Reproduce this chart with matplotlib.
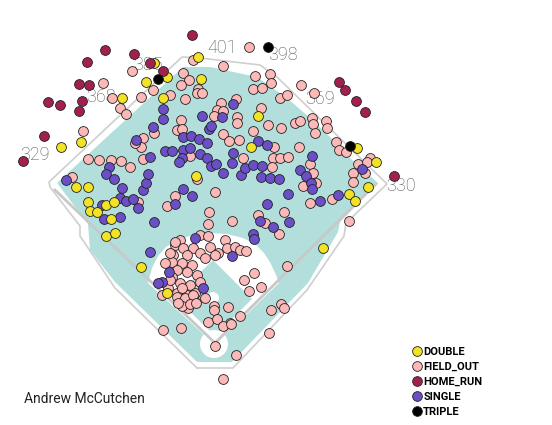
import matplotlib
matplotlib.use("Agg")
import matplotlib.pyplot as plt
from matplotlib.patches import Polygon, Circle
from matplotlib.lines import Line2D

# --- batted ball coordinates (chart pixel space, y grows downward) ---
double_x = [198, 154, 167, 146, 163, 122, 201, 258, 81, 61, 251, 196, 76, 88, 88,
            90, 97, 106, 114, 111, 106, 115, 141, 167, 323, 357, 376, 368, 349, 355]
double_y = [57, 63, 77, 82, 98, 98, 79, 116, 142, 147, 147, 176, 187, 187, 202,
            211, 212, 205, 202, 219, 236, 233, 267, 293, 248, 148, 162, 187, 194, 201]

out_x = [249, 223, 193, 132, 103, 112, 120, 126, 83, 141, 153, 170, 185, 183, 189, 181, 198, 197, 202,
         255, 270, 271, 253, 262, 301, 314, 280, 287,
         221, 236, 217, 223, 214, 237, 237, 261, 268, 281, 295, 300, 312, 313, 326, 327, 315, 253, 223,
         229, 239, 299, 336, 339, 346, 274, 243, 273, 280, 288, 272, 310, 313, 316, 358, 370, 367, 365,
         353, 353, 332, 310, 303,
         181, 177, 182, 154, 143, 141, 135, 130, 121, 111, 99, 88, 143, 72, 190, 197, 215, 175, 167, 138,
         209, 208, 232, 258, 265, 284, 279, 349,
         287, 254, 244, 249, 261, 271, 281, 284, 269, 240, 230, 228, 214, 214, 208, 217, 223, 231, 215,
         236, 223, 163, 181,
         200, 180, 175, 183, 193, 210, 218, 225, 227, 235, 240, 246, 200, 205, 215, 173, 187, 172, 182,
         192, 177, 187, 197, 172, 168, 180, 190, 200, 177, 187, 195, 183, 195, 188, 205, 165, 170, 182,
         177, 185, 193, 182, 190, 196, 178, 170, 175, 162, 208]
out_y = [47, 66, 60, 71, 83, 98, 108, 114, 131, 97, 90, 95, 99, 73, 80, 85, 89, 93, 93,
         76, 74, 83, 89, 88, 85, 93, 98, 95,
         103, 99, 110, 111, 116, 117, 123, 108, 125, 128, 123, 121, 118, 124, 121, 128, 133, 131, 134,
         141, 140, 147, 142, 150, 152, 147, 158, 158, 158, 157, 167, 164, 173, 183, 164, 158, 162, 173,
         173, 182, 199, 203, 186,
         120, 130, 129, 133, 138, 147, 143, 167, 161, 160, 160, 159, 159, 177, 156, 179, 192, 196, 206, 202,
         212, 224, 221, 215, 223, 212, 234, 221,
         266, 273, 280, 291, 287, 310, 304, 308, 333, 316, 323, 307, 306, 310, 322, 319, 326, 324, 346,
         355, 379, 330, 328,
         235, 240, 245, 248, 248, 247, 253, 240, 248, 247, 250, 251, 253, 258, 255, 255, 255, 262, 263,
         265, 270, 272, 275, 277, 288, 283, 285, 282, 293, 295, 293, 302, 302, 308, 298, 263, 280, 288,
         297, 298, 295, 306, 304, 303, 303, 253, 242, 295, 236]

hr_x = [192, 105, 87, 134, 150, 163, 79, 89, 48, 60, 82, 79, 44, 23, 339, 345, 356, 365, 394]
hr_y = [35, 50, 62, 54, 63, 71, 84, 85, 102, 105, 101, 111, 136, 161, 82, 90, 101, 112, 176]

single_x = [163, 163, 153, 202, 209, 211, 222, 233,
            136, 150, 165, 172, 183, 190, 183, 191, 199, 207,
            182, 179, 200, 207, 211, 216,
            233, 232, 223, 241, 245, 253, 262, 261, 258, 267,
            270, 279, 312, 300, 306, 311, 312, 288, 267, 320, 338, 362,
            260, 273, 289, 253, 254,
            66, 109, 106, 114, 122, 120, 126, 133, 138, 143, 146, 148, 102, 104, 120, 154,
            183, 192, 175,
            150, 195, 232, 169, 162, 158, 203]
single_y = [109, 119, 127, 116, 129, 126, 117, 104,
            140, 157, 151, 151, 150, 148, 137, 136, 139, 143,
            158, 162, 154, 158, 166, 164,
            153, 163, 173, 175, 168, 165, 166, 177, 141, 145,
            178, 179, 156, 170, 176, 183, 189, 194, 204, 201, 195, 169,
            221, 227, 222, 234, 239,
            180, 167, 174, 179, 188, 198, 201, 199, 208, 190, 183, 174, 205, 219, 217, 222,
            189, 196, 204,
            252, 238, 256, 272, 282, 283, 288]

triple_x = [268, 158, 350]
triple_y = [47, 79, 146]

# wall distances
dist_labels = ["329", "368", "385", "401", "398", "369", "330"]
dist_x = [35, 101, 148, 222, 283, 320, 401]
dist_y = [155, 97, 65, 48, 55, 99, 186]

player = "Andrew McCutchen"

colors = {
    "DOUBLE": "#f2e424",
    "FIELD_OUT": "#fdb8b8",
    "HOME_RUN": "#a31f50",
    "SINGLE": "#6a4fc6",
    "TRIPLE": "#000000",
}

fig = plt.figure(figsize=(5.52, 4.25), dpi=100)
ax = fig.add_axes([0, 0, 1, 1])
ax.set_xlim(0, 552)
ax.set_ylim(425, 0)
ax.axis("off")

teal = "#b2dfdb"
line_gray = "#cfcfcf"

# --- field ---
field = Polygon([(57, 183), (183, 67), (210, 67), (257, 77), (287, 98), (310, 118), (330, 137),
                 (350, 158), (378, 183), (340, 222), (338, 232), (308, 283), (232, 362),
                 (197, 362), (115, 282), (90, 250), (88, 224)],
                closed=True, facecolor=teal, edgecolor="none", zorder=1)
ax.add_patch(field)

wall = [(197, 368), (115, 288), (80, 236), (80, 226), (50, 187), (49, 182), (182, 57), (200, 58),
        (260, 65), (277, 77), (387, 184), (346, 223), (344, 236), (307, 290), (233, 368), (197, 368)]
ax.plot([p[0] for p in wall], [p[1] for p in wall], color=line_gray, lw=1.2, zorder=2)

dirt = Polygon([(148, 283), (152, 268), (158, 256), (166, 247), (177, 240), (193, 235), (210, 233),
                (227, 234), (243, 238), (255, 244), (264, 253), (271, 264), (276, 275), (279, 283),
                (215, 345)], closed=True, facecolor="white", edgecolor="none", zorder=2)
ax.add_patch(dirt)
grass = Polygon([(213, 260), (252, 299), (215, 336), (175, 297)],
                closed=True, facecolor=teal, edgecolor="none", zorder=2)
ax.add_patch(grass)
ax.add_patch(Circle((213, 298), 6, facecolor="white", edgecolor="none", zorder=2))
ax.add_patch(Circle((214, 344), 14, facecolor="white", edgecolor="none", zorder=2))

ax.plot([55, 215, 376], [190, 343, 184], color="#c8c8c8", lw=2, zorder=3)

for lab, x, y in zip(dist_labels, dist_x, dist_y):
    ax.text(x, y, lab, fontsize=13, color="#555555", ha="center", va="center",
            family="Roboto", fontweight="light", zorder=3)

# --- batted balls ---
kw = dict(s=50, edgecolors="#222222", linewidths=0.6)
ax.scatter(out_x, out_y, c=colors["FIELD_OUT"], zorder=4, **kw)
ax.scatter(single_x, single_y, c=colors["SINGLE"], zorder=5, **kw)
ax.scatter(double_x, double_y, c=colors["DOUBLE"], zorder=6, **kw)
ax.scatter(hr_x, hr_y, c=colors["HOME_RUN"], zorder=6, **kw)
ax.scatter(triple_x, triple_y, c=colors["TRIPLE"], zorder=6, **kw)

handles = [Line2D([], [], marker="o", ls="none", markersize=7, markerfacecolor=c,
                  markeredgecolor="#222222", markeredgewidth=0.6) for c in colors.values()]
leg = ax.legend(handles, list(colors.keys()), loc="upper left",
                bbox_to_anchor=(411 / 552, 1 - 347 / 425), frameon=False,
                prop={"family": "Roboto", "weight": "bold", "size": 8},
                handletextpad=0.1, labelspacing=0.45, handlelength=1.0,
                borderpad=0, borderaxespad=0)

ax.text(24, 399, player, fontsize=10, family="Roboto", ha="left", va="center", color="#222222")

fig.savefig("out.png", dpi=100)
